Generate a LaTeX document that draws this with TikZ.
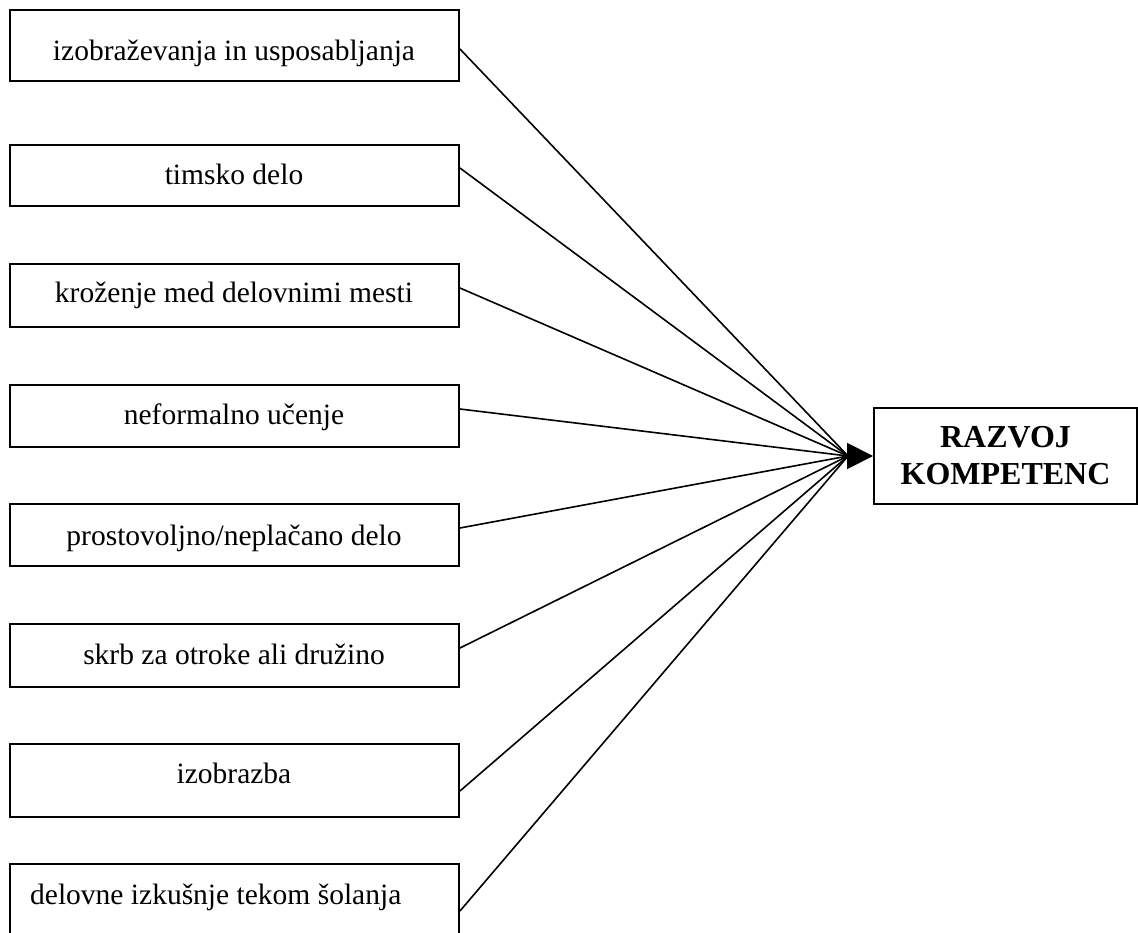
\documentclass[tikz,border=0pt]{standalone}
\usepackage{fontspec}
\setmainfont{Liberation Serif}
\usetikzlibrary{arrows.meta,calc}
\begin{document}
\begin{tikzpicture}[x=1pt,y=-1pt,
  box/.style={draw,line width=1.9pt,rectangle,inner sep=0pt,minimum width=449pt},
  lbl/.style={anchor=base,font=\fontsize{29.5}{35}\selectfont,inner sep=0pt},
  conn/.style={line width=1.6pt}]
\useasboundingbox (0,0) rectangle (1138,933);
% left boxes
\node[box,minimum height=71pt] (b1) at (234.5,45.5) {};
\node[box,minimum height=61pt] (b2) at (234.5,175.5) {};
\node[box,minimum height=63pt] (b3) at (234.5,295.5) {};
\node[box,minimum height=62pt] (b4) at (234.5,416) {};
\node[box,minimum height=62pt] (b5) at (234.5,535) {};
\node[box,minimum height=63pt] (b6) at (234.5,655.5) {};
\node[box,minimum height=73pt] (b7) at (234.5,780.5) {};
\node[box,minimum height=76pt] (b8) at (234.5,902) {};
% labels
\node[lbl] (t1) at (234,61) {izobraževanja in usposabljanja};
\node[lbl] (t2) at (234,185) {timsko delo};
\node[lbl] (t3) at (234,303) {kroženje med delovnimi mesti};
\node[lbl] (t4) at (234,424) {neformalno učenje};
\node[lbl] (t5) at (234,545) {prostovoljno/neplačano delo};
\node[lbl] (t6) at (234,664) {skrb za otroke ali družino};
\node[lbl] (t7) at (234,783) {izobrazba};
\node[lbl,anchor=base west] (t8) at (30,904) {delovne izkušnje tekom šolanja};
% right box
\node[draw,line width=1.9pt,rectangle,inner sep=0pt,minimum width=263pt,minimum height=96pt,
      align=center,font=\fontsize{32}{37}\selectfont\bfseries] (rb) at (1005.5,456) {RAZVOJ\\KOMPETENC};
\coordinate (conv) at (848,456);
% connectors
\draw[conn] ([yshift=-3.5pt]b1.east) -- (conv);
\draw[conn] ([yshift=7.5pt]b2.east) -- (conv);
\draw[conn] ([yshift=7.5pt]b3.east) -- (conv);
\draw[conn] ([yshift=7pt]b4.east) -- (conv);
\draw[conn] ([yshift=7pt]b5.east) -- (conv);
\draw[conn] ([yshift=7.5pt]b6.east) -- (conv);
\draw[conn] ([yshift=-10.5pt]b7.east) -- (conv);
\draw[conn] ([yshift=-9pt]b8.east) -- (conv);
\draw[conn,-{Triangle[length=26pt,width=26pt]}] (conv) -- (rb.west);
\end{tikzpicture}
\end{document}
